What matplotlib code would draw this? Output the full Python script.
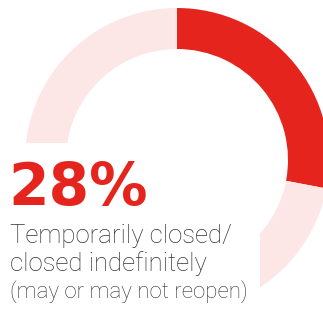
import matplotlib
matplotlib.use("Agg")
import matplotlib.pyplot as plt
from matplotlib.patches import Rectangle

# Data
labels = ["Temporarily closed/closed indefinitely", "Other"]
values = [28, 72]
colors = ["#E5251D", "#FCE6E6"]
big_label = "28%"
line1 = "Temporarily closed/"
line2 = "closed indefinitely"
line3 = "(may or may not reopen)"

W, H = 323, 317
fig = plt.figure(figsize=(W / 100, H / 100), dpi=100)
ax = fig.add_axes([0, 0, 1, 1])

cx, cy_pix, R, ring = 177, 160, 152, 41
ax.pie(values, colors=colors, startangle=90, counterclock=False,
       center=(cx, H - cy_pix), radius=R,
       wedgeprops=dict(width=ring, linewidth=0))
ax.set_xlim(0, W)
ax.set_ylim(0, H)
ax.set_aspect("equal")
ax.axis("off")

# white panel behind the text (clips the ring)
ax.add_patch(Rectangle((0, 0), 260, H - 143, facecolor="white",
                       edgecolor="none", zorder=3))

ax.text(8, H - 205, big_label, color="#E5251D", fontsize=42,
        fontfamily="DejaVu Sans", fontweight="bold", va="baseline", ha="left", zorder=4)
ax.text(10, H - 243, line1, color="#333333", fontsize=18.5,
        fontfamily="Roboto", fontweight="light", va="baseline", ha="left", zorder=4)
ax.text(10, H - 271, line2, color="#333333", fontsize=18.5,
        fontfamily="Roboto", fontweight="light", va="baseline", ha="left", zorder=4)
ax.text(10, H - 298, line3, color="#333333", fontsize=16,
        fontfamily="Roboto", fontweight="light", va="baseline", ha="left", zorder=4)

fig.savefig("out.png", dpi=100)
